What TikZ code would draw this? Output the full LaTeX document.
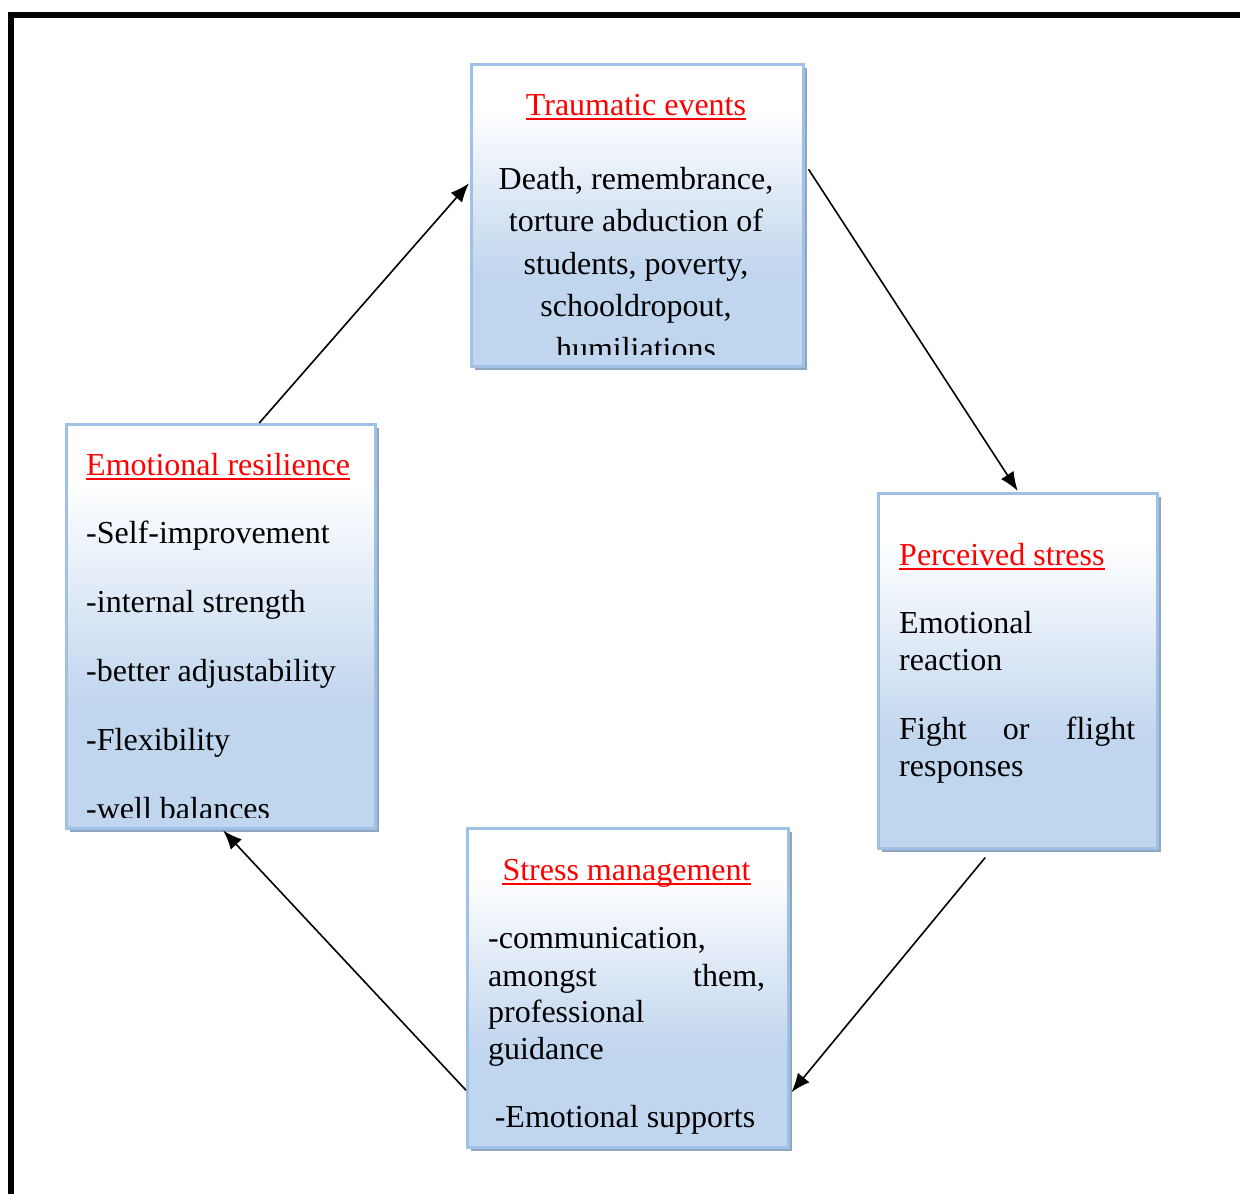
\documentclass[tikz,border=0pt]{standalone}
\usepackage{fontspec}
\setmainfont{Liberation Serif}
\usetikzlibrary{arrows.meta,shadows}
\definecolor{boxblue}{RGB}{192,213,238}
\definecolor{bordercol}{RGB}{160,193,230}
\definecolor{shadowcol}{RGB}{143,166,192}
\definecolor{titlered}{RGB}{255,0,0}
\pgfdeclareverticalshading{boxshade}{100bp}{color(0bp)=(boxblue); color(25bp)=(boxblue); color(40bp)=(boxblue); color(68bp)=(white); color(100bp)=(white)}
\begin{document}
\begin{tikzpicture}[x=1pt,y=-1pt,
  boxnode/.style={rectangle, draw=bordercol, line width=2.5pt, shading=boxshade, inner sep=0pt, anchor=north west,
    drop shadow={shadow xshift=3.5pt, shadow yshift=-3.5pt, fill=shadowcol, opacity=1}},
  txt/.style={inner sep=0pt, font=\fontsize{32}{38}\selectfont, text=black},
  ttl/.style={txt, text=titlered},
  uline/.style={draw=titlered, line width=1.7pt},
  conn/.style={draw=black, line width=1.6pt, -{Latex[length=19pt,width=15pt]}},
  frame/.style={draw=black, line width=5.7pt, miter limit=10}
]
\useasboundingbox (0,0) rectangle (1240,1194);
\draw[frame] (11,1210) -- (11,15.3) -- (1260,15.3);

% boxes
\node[boxnode, minimum width=332pt, minimum height=302pt] (tb) at (470,63) {};
\node[boxnode, minimum width=279pt, minimum height=355pt] (rb) at (877,492) {};
\node[boxnode, minimum width=309pt, minimum height=404pt] (lb) at (65,423) {};
\node[boxnode, minimum width=321pt, minimum height=319pt] (bb) at (466,827) {};

% top box text
\node[ttl, anchor=base] (tbt) at (636,115) {Traumatic events};
\draw[uline] ([yshift=-4pt]tbt.base west) -- ([yshift=-4pt]tbt.base east);
\begin{scope}
\clip (471,64) rectangle (801,354);
\node[txt, anchor=base] (tb1) at (636,189) {Death, remembrance,};
\node[txt, anchor=base] (tb2) at (636,231.5) {torture abduction of};
\node[txt, anchor=base] (tb3) at (636,274) {students, poverty,};
\node[txt, anchor=base] (tb4) at (636,316.5) {schooldropout,};
\node[txt, anchor=base] (tb5) at (636,359) {humiliations};
\end{scope}

% right box text
\node[ttl, anchor=base west] (rbt) at (899,565) {Perceived stress};
\draw[uline] ([yshift=-4pt]rbt.base west) -- ([yshift=-4pt]rbt.base east);
\node[txt, anchor=base west] (rb1) at (899,633) {Emotional};
\node[txt, anchor=base west] (rb2) at (899,670) {reaction};
\node[txt, anchor=base west] (rb3) at (899,739) {\makebox[236pt][s]{Fight or flight}};
\node[txt, anchor=base west] (rb4) at (899,776) {responses};

% left box text
\node[ttl, anchor=base west] (lbt) at (86,475) {Emotional resilience};
\draw[uline] ([yshift=-4pt]lbt.base west) -- ([yshift=-4pt]lbt.base east);
\begin{scope}
\clip (66,424) rectangle (373,817);
\node[txt, anchor=base west] (lb1) at (86,543) {-Self-improvement};
\node[txt, anchor=base west] (lb2) at (86,612) {-internal strength};
\node[txt, anchor=base west] (lb3) at (86,681) {-better adjustability};
\node[txt, anchor=base west] (lb4) at (86,750) {-Flexibility};
\node[txt, anchor=base west] (lb5) at (86,819) {-well balances};
\end{scope}

% bottom box text
\node[ttl, anchor=base] (bbt) at (626.5,880) {Stress management};
\draw[uline] ([yshift=-4pt]bbt.base west) -- ([yshift=-4pt]bbt.base east);
\node[txt, anchor=base west] (bb1) at (488,948) {-communication,};
\node[txt, anchor=base west] (bb2) at (488,986) {\makebox[277pt][s]{amongst them,}};
\node[txt, anchor=base west] (bb3) at (488,1022) {professional};
\node[txt, anchor=base west] (bb4) at (488,1059) {guidance};
\node[txt, anchor=base] (bb5) at (625,1127) {-Emotional supports};

% connectors
\draw[conn] ([xshift=38.5pt]lb.north) -- ([xshift=-1pt,yshift=32pt]tb.west);
\draw[conn] ([xshift=4pt,yshift=46pt]tb.east) -- ([yshift=1pt]rb.north);
\draw[conn] ([xshift=-32.5pt,yshift=-8pt]rb.south) -- ([xshift=2pt,yshift=-104.5pt]bb.east);
\draw[conn] ([yshift=-102.5pt]bb.west) -- ([xshift=2.5pt,yshift=-1pt]lb.south);
\end{tikzpicture}
\end{document}
